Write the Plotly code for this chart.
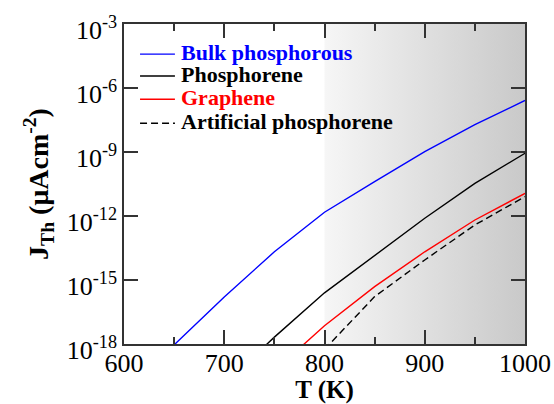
import plotly.graph_objects as go

bulk_T = [650, 700, 750, 800, 850, 900, 950, 1000]
bulk_J = [9.1e-19, 1.6e-16, 2.1e-14, 1.5e-12, 4.1e-11, 1.05e-9, 1.9e-8, 2.6e-7]

phos_T = [700, 750, 800, 850, 900, 950, 1000]
phos_J = [1.3e-20, 2.1e-18, 2.5e-16, 1.35e-14, 7.8e-13, 3.4e-11, 8.7e-10]

graph_T = [750, 800, 850, 900, 950, 1000]
graph_J = [5.5e-20, 7.2e-18, 4.9e-16, 2.1e-14, 6.5e-13, 1.15e-11]

art_T = [800, 850, 900, 950, 1000]
art_J = [5.6e-19, 1.66e-16, 8.7e-15, 3.8e-13, 8.1e-12]

series_names = ["Bulk phosphorous", "Phosphorene", "Graphene", "Artificial phosphorene"]
series_colors = ["#0000ff", "#000000", "#ff0000", "#000000"]
series_dash = ["solid", "solid", "solid", "7px,4px"]

ytick_vals = [1e-18, 1e-15, 1e-12, 1e-9, 1e-6, 1e-3]
ytick_text = ["10<sup>-18</sup>", "10<sup>-15</sup>", "10<sup>-12</sup>",
              "10<sup>-9</sup>", "10<sup>-6</sup>", "10<sup>-3</sup>"]
xtick_vals = [600, 700, 800, 900, 1000]

shade_x = [800, 1000, 1000, 800, 800]
shade_y = [1e-18, 1e-18, 1e-3, 1e-3, 1e-18]

serif = "Liberation Serif"

fig = go.Figure()
fig.add_trace(go.Scatter(
    x=shade_x, y=shade_y, mode="lines", fill="toself",
    line=dict(width=0), showlegend=False, hoverinfo="skip",
    fillgradient=dict(type="horizontal",
                      colorscale=[[0, "#f6f6f6"], [1, "#c9c9c9"]]),
))
for xs, ys, nm, col, ds in zip([bulk_T, phos_T, graph_T, art_T],
                               [bulk_J, phos_J, graph_J, art_J],
                               series_names, series_colors, series_dash):
    fig.add_trace(go.Scatter(x=xs, y=ys, mode="lines", name=nm, showlegend=False,
                             line=dict(color=col, width=1.4, dash=ds)))

# legend drawn manually (paper coords of plot area)
leg_rows = [0.906, 0.8375, 0.765, 0.69]
for ry, nm, col, ds in zip(leg_rows, series_names, series_colors, series_dash):
    fig.add_shape(type="line", xref="paper", yref="paper",
                  x0=0.040, x1=0.127, y0=ry, y1=ry,
                  line=dict(color=col, width=1.4, dash=ds))
    fig.add_annotation(xref="paper", yref="paper", x=0.138, y=ry + 0.004,
                       xanchor="left", yanchor="middle", showarrow=False,
                       text=nm, font=dict(family=serif, size=22, weight="bold", color=col))

fig.update_layout(
    width=554, height=404,
    margin=dict(l=124, r=29, t=24, b=60, autoexpand=False),
    paper_bgcolor="white", plot_bgcolor="white",
    font=dict(family=serif, color="black", size=22),
    showlegend=False,
    xaxis=dict(range=[600, 1000], tickvals=xtick_vals, automargin=False,
               ticks="inside", ticklen=14, tickwidth=1.5, tickcolor="#333",
               showline=True, linecolor="#333", linewidth=1.5, mirror="ticks",
               showgrid=False, zeroline=False, ticklabelstandoff=-5,
               minor=dict(dtick=50, ticks="inside", ticklen=7, tickwidth=1.5,
                          tickcolor="#333", showgrid=False),
               tickfont=dict(size=26, family=serif),
               title=dict(text="<b>T (K)</b>", font=dict(size=25, family=serif),
                          standoff=0)),
    yaxis=dict(type="log", range=[-18, -3], tickvals=ytick_vals, ticktext=ytick_text,
               automargin=False,
               ticks="inside", ticklen=14, tickwidth=1.5, tickcolor="#333",
               showline=True, linecolor="#333", linewidth=1.5, mirror="ticks",
               showgrid=False, zeroline=False, ticklabelshift=6,
               tickfont=dict(size=26, family=serif),
               title=dict(text="<b>J<sub>Th</sub> (μAcm<sup>-2</sup>)</b>",
                          font=dict(size=28, family=serif), standoff=10)),
)

fig.write_html("out.html")
